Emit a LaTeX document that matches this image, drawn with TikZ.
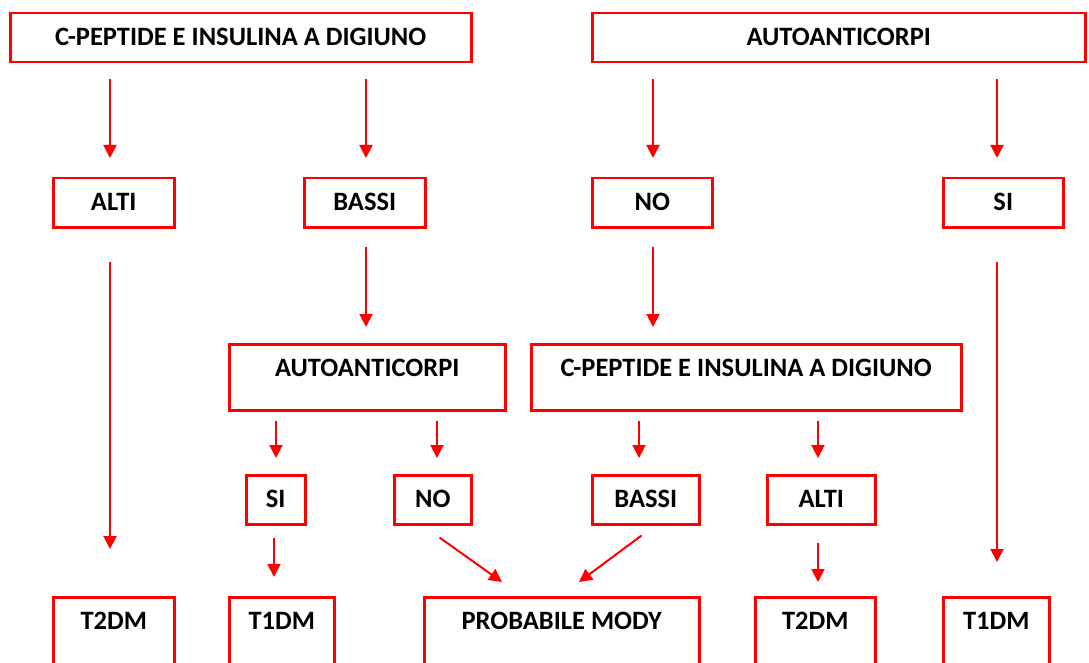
\documentclass[tikz,border=0pt]{standalone}
\usepackage{fontspec}
\setmainfont{Carlito}
\usetikzlibrary{arrows.meta}
\begin{document}
\begin{tikzpicture}[x=1pt,y=-1pt,
  box/.style={draw=red, line width=2.5pt, inner sep=0pt, anchor=north west,
    font=\bfseries\fontsize{26.5}{26.5}\selectfont, text=black},
  shortbox/.style={box, text height=32pt, text depth=17pt},
  tallbox/.style={box, text height=32pt, text depth=52pt},
  midbox/.style={box, text height=32pt, text depth=34pt},
  arr/.style={draw=red, line width=2pt, -{Triangle[width=13pt,length=13pt]}}]
\clip (0,0) rectangle (1089,663);
\fill[white] (0,0) rectangle (1089,663);
% row 1
\node[shortbox, minimum width=461pt] (top1) at (9,12) {C-PEPTIDE E INSULINA A DIGIUNO};
\node[shortbox, minimum width=493pt] (top2) at (591,12) {AUTOANTICORPI};
% row 2
\node[shortbox, minimum width=121pt] (alti1) at (52,177) {ALTI};
\node[shortbox, minimum width=121pt] (bassi1) at (303,177) {BASSI};
\node[shortbox, minimum width=120pt] (no1) at (591,177) {NO};
\node[shortbox, minimum width=120pt] (si1) at (942,177) {SI};
% row 3
\node[midbox, minimum width=276pt] (auto2) at (228,343) {AUTOANTICORPI};
\node[midbox, minimum width=430pt] (cpep2) at (530,343) {C-PEPTIDE E INSULINA A DIGIUNO};
% row 4
\node[shortbox, minimum width=59pt] (si2) at (245,474) {SI};
\node[shortbox, minimum width=77pt] (no2) at (393,474) {NO};
\node[shortbox, minimum width=107pt] (bassi2) at (591,474) {BASSI};
\node[shortbox, minimum width=108pt] (alti2) at (766,474) {ALTI};
% row 5
\node[tallbox, minimum width=121pt] (t2dm1) at (52,596) {T2DM};
\node[tallbox, minimum width=105pt] (t1dm1) at (228,596) {T1DM};
\node[tallbox, minimum width=275pt] (mody) at (423,596) {PROBABILE MODY};
\node[tallbox, minimum width=120pt] (t2dm2) at (754,596) {T2DM};
\node[tallbox, minimum width=106pt] (t1dm2) at (942,596) {T1DM};
% arrows
\draw[arr, shorten <=16pt, shorten >=19pt] (110,0 |- top1.south) -- (110,0 |- alti1.north);
\draw[arr, shorten <=16pt, shorten >=19pt] (366,0 |- top1.south) -- (366,0 |- bassi1.north);
\draw[arr, shorten <=16pt, shorten >=19pt] (653,0 |- top2.south) -- (653,0 |- no1.north);
\draw[arr, shorten <=16pt, shorten >=19pt] (997,0 |- top2.south) -- (997,0 |- si1.north);
\draw[arr, shorten <=33pt, shorten >=47pt] (110,0 |- alti1.south) -- (110,0 |- t2dm1.north);
\draw[arr, shorten <=18pt, shorten >=16pt] (366,0 |- bassi1.south) -- (366,0 |- auto2.north);
\draw[arr, shorten <=18pt, shorten >=16pt] (653,0 |- no1.south) -- (653,0 |- cpep2.north);
\draw[arr, shorten <=33pt, shorten >=34pt] (997,0 |- si1.south) -- (997,0 |- t1dm2.north);
\draw[arr, shorten <=9pt, shorten >=16pt] (276,0 |- auto2.south) -- (276,0 |- si2.north);
\draw[arr, shorten <=9pt, shorten >=16pt] (437,0 |- auto2.south) -- (437,0 |- no2.north);
\draw[arr, shorten <=9pt, shorten >=16pt] (639,0 |- cpep2.south) -- (639,0 |- bassi2.north);
\draw[arr, shorten <=9pt, shorten >=16pt] (818,0 |- cpep2.south) -- (818,0 |- alti2.north);
\draw[arr, shorten <=12pt, shorten >=19pt] (274,0 |- si2.south) -- (274,0 |- t1dm1.north);
\draw[arr, shorten <=17pt, shorten >=14pt] (818,0 |- alti2.south) -- (818,0 |- t2dm2.north);
\draw[arr] ([shift={(-33,12)}]no2.south east) -- ([shift={(79,-14)}]mody.north west);
\draw[arr] ([shift={(-59,10)}]bassi2.south east) -- ([shift={(156,-14)}]mody.north west);
\end{tikzpicture}
\end{document}
